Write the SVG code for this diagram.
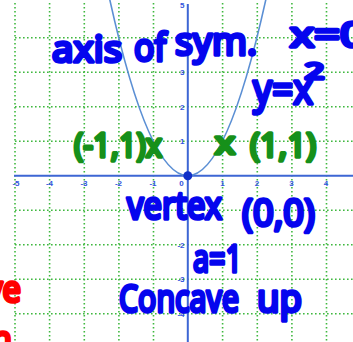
<svg xmlns="http://www.w3.org/2000/svg" width="353" height="342" viewBox="0 0 353 342">
<defs>
<style>
.grid{stroke:#3fb83f;stroke-width:1.6;stroke-dasharray:1.6 2.4;fill:none}
.axis{stroke:#3d66d4;stroke-width:2;fill:none}
.curve{stroke:#5b8fd4;stroke-width:1.6;fill:none}
.tick{font-family:"Liberation Sans",Arial,sans-serif;font-size:8px;font-weight:bold;fill:#3355dd}
.tx{text-anchor:middle}
.ty{text-anchor:end}
.hand{font-family:"Noto Sans","DejaVu Sans",sans-serif;font-weight:normal;stroke-width:3.6;stroke-linejoin:round;stroke-linecap:round}
.blue{fill:#0505ee;stroke:#0505ee}
.green{fill:#16901a;stroke:#16901a}
.red{fill:#ff0000;stroke:#ff0000}
</style>
</defs>
<rect width="353" height="342" fill="#ffffff"/>
<g id="grid">
<path class="grid" d="M15,3V342M49.6,3V342M84.3,3V342M118.9,3V342M153.5,3V342M222.6,3V342M257.3,3V342M291.9,3V342M326.5,3V342"/>
<path class="grid" d="M15,37.7H353M15,72.2H353M15,106.7H353M15,141.2H353M15,210.2H353M15,244.7H353M15,279.2H353M15,313.7H353"/>
</g>
<g id="axes">
<path class="axis" d="M14,175.7H353M187.8,4V342"/>
</g>
<g id="tick-labels">
<text class="tick tx" x="16" y="186">-5</text>
<text class="tick tx" x="49.5" y="186">-4</text>
<text class="tick tx" x="84" y="186">-3</text>
<text class="tick tx" x="118.5" y="186">-2</text>
<text class="tick tx" x="153" y="186">-1</text>
<text class="tick tx" x="181.5" y="186">0</text>
<text class="tick tx" x="222.5" y="186">1</text>
<text class="tick tx" x="257" y="186">2</text>
<text class="tick tx" x="291.5" y="186">3</text>
<text class="tick tx" x="326" y="186">4</text>
<text class="tick ty" x="184.5" y="8">5</text>
<text class="tick ty" x="184.5" y="75">3</text>
<text class="tick ty" x="184.5" y="109.5">2</text>
<text class="tick ty" x="184.5" y="144">1</text>
<text class="tick ty" x="184.5" y="213">-1</text>
<text class="tick ty" x="184.5" y="247.5">-2</text>
<text class="tick ty" x="184.5" y="282">-3</text>
<text class="tick ty" x="184.5" y="316.5">-4</text>
</g>
<g id="parabola">
<path class="curve" d="M108.2,-7.5Q187.8,358.9 267.4,-7.5"/>
</g>
<g id="vertex-point">
<circle cx="187.8" cy="175.7" r="4.5" fill="#1030c8"/>
</g>
<g id="notes">
<text class="hand blue" x="52" y="62" font-size="37" textLength="70" lengthAdjust="spacingAndGlyphs">axis</text>
<text class="hand blue" x="134" y="61" font-size="38" textLength="32" lengthAdjust="spacingAndGlyphs">of</text>
<text class="hand blue" x="175" y="55" font-size="38" textLength="82" lengthAdjust="spacingAndGlyphs">sym.</text>
<text class="hand blue" x="290" y="47" font-size="34" textLength="76" lengthAdjust="spacingAndGlyphs">x=0</text>
<text class="hand blue" x="253" y="104" font-size="42" textLength="60" lengthAdjust="spacingAndGlyphs">y=x</text>
<text class="hand blue" x="305" y="79" font-size="21" textLength="19" lengthAdjust="spacingAndGlyphs">2</text>
<text class="hand green" x="74" y="157" font-size="32" textLength="88" lengthAdjust="spacingAndGlyphs">(-1,1)x</text>
<text class="hand green" x="215" y="154" font-size="30" textLength="20" lengthAdjust="spacingAndGlyphs">x</text>
<text class="hand green" x="250" y="157" font-size="32" textLength="66" lengthAdjust="spacingAndGlyphs">(1,1)</text>
<text class="hand blue" x="127" y="219" font-size="38" textLength="95" lengthAdjust="spacingAndGlyphs">vertex</text>
<text class="hand blue" x="242" y="226" font-size="38" textLength="73" lengthAdjust="spacingAndGlyphs">(0,0)</text>
<text class="hand blue" x="193" y="272" font-size="38" textLength="49" lengthAdjust="spacingAndGlyphs">a=1</text>
<text class="hand blue" x="119" y="312" font-size="39" textLength="120" lengthAdjust="spacingAndGlyphs">Concave</text>
<text class="hand blue" x="257" y="312" font-size="39" textLength="45" lengthAdjust="spacingAndGlyphs">up</text>
<text class="hand red" x="-14" y="302" font-size="36" textLength="35" lengthAdjust="spacingAndGlyphs">ve</text>
<text class="hand red" x="-8" y="352" font-size="36" textLength="20" lengthAdjust="spacingAndGlyphs">n</text>
</g>
</svg>
